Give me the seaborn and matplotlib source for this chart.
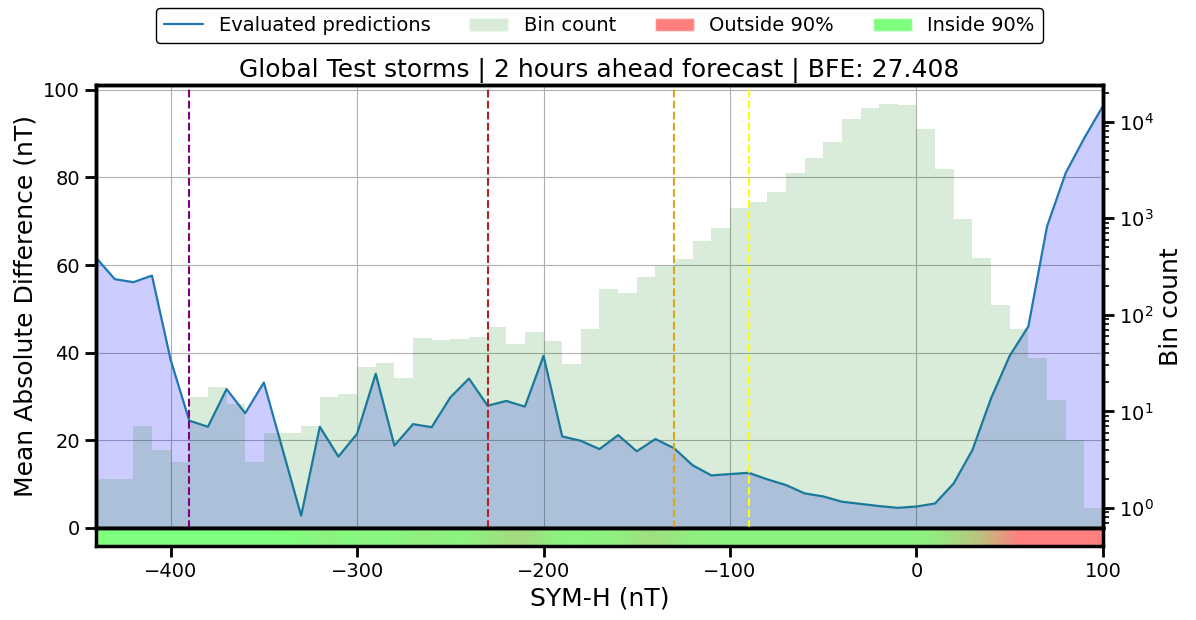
import numpy as np
import matplotlib
matplotlib.use("Agg")
import matplotlib.pyplot as plt
from matplotlib.colors import LinearSegmentedColormap
from matplotlib.patches import Patch
from matplotlib.lines import Line2D
import seaborn as sns

# SYM-H grid of the evaluated predictions
sym_h = list(range(-440, 101, 10))
mad = [61.7, 56.8, 56.1, 57.6, 38.4, 24.5, 23.1, 31.7, 26.2, 33.2,
       18.0, 2.8, 23.1, 16.3, 21.5, 35.2, 18.8, 23.7, 23.0, 29.8,
       34.1, 27.9, 29.0, 27.7, 39.3, 20.9, 19.9, 18.0, 21.2, 17.5,
       20.3, 18.2, 14.3, 12.0, 12.3, 12.6, 11.1, 9.8, 7.9, 7.2,
       6.0, 5.5, 5.0, 4.6, 4.9, 5.6, 10.2, 17.8, 29.6, 39.3,
       46.0, 68.8, 81.0, 89.0, 96.3]

# histogram of samples per 10 nT bin
bin_edges = list(range(-440, 101, 10))
bin_counts = [2, 2, 7, 4, 3, 14, 18, 12, 3, 6,
              6, 7, 14, 15, 29, 32, 22, 58, 55, 56,
              59, 75, 50, 67, 54, 31, 72, 186, 170, 248,
              317, 380, 585, 800, 1290, 1480, 1880, 2940, 4240, 6200,
              10700, 13970, 15400, 14750, 8460, 3260, 988, 390, 126, 72,
              36, 13, 5, 1]

# share of each bin outside the 90% interval
outside_frac = [0, 0, 0, 0, 0, 0, 0, 0, 0, 0,
                0.02, 0.06, 0.1, 0.04, 0.08, 0.05, 0.1, 0.14, 0.12, 0.08,
                0.15, 0.22, 0.28, 0.24, 0.12, 0.08, 0.1, 0.12, 0.16, 0.24,
                0.22, 0.15, 0.12, 0.1, 0.1, 0.1, 0.1, 0.1, 0.1, 0.1,
                0.1, 0.1, 0.1, 0.1, 0.12, 0.22, 0.35, 0.5, 0.75, 1,
                1, 1, 1, 1]

# percentile markers
vlines = [(-390, "purple"), (-230, "firebrick"), (-130, "goldenrod"), (-90, "yellow")]

sns.set_style("ticks")
plt.rcParams["font.family"] = ["DejaVu Sans"]
plt.rcParams.update({"text.color": "black", "axes.labelcolor": "black",
                     "xtick.color": "black", "ytick.color": "black"})

fig = plt.figure(figsize=(11.96, 6.2), dpi=100)
ax = fig.add_axes([0.0803, 0.1484, 0.8419, 0.7145])
cax = fig.add_axes([0.0803, 0.1194, 0.8419, 0.029], sharex=ax)

sns.lineplot(x=sym_h, y=mad, ax=ax, color="tab:blue", linewidth=1.6)
ax.fill_between(sym_h, mad, color="blue", alpha=0.2, linewidth=0)
ax.set_xlim(-440, 100)
ax.set_ylim(0, 101.1)
ax.grid(True, color="#b0b0b0", linewidth=0.8)
ax.set_ylabel("Mean Absolute Difference (nT)", fontsize=18)
ax.set_xlabel("")
ax.tick_params(axis="x", length=0, labelbottom=False)
ax.tick_params(axis="y", labelsize=14, length=8, width=2)
ax.set_title("Global Test storms | 2 hours ahead forecast | BFE: 27.408", fontsize=18)

ax2 = ax.twinx()
centers = [e + 5 for e in bin_edges[:-1]]
sns.histplot(x=centers, weights=bin_counts, bins=bin_edges, ax=ax2,
             color="green", alpha=0.15, linewidth=0)
ax2.set_yscale("log")
ax2.set_ylim(0.62, 24000)
ax2.set_ylabel("Bin count", fontsize=18)
ax2.tick_params(axis="y", which="major", labelsize=14, length=8, width=2)
ax2.tick_params(axis="y", which="minor", length=4, width=1.2)
for x, c in vlines:
    ax2.axvline(x, color=c, linestyle="--", linewidth=1.5)

cmap = LinearSegmentedColormap.from_list("inout", [(0.5, 1, 0.5), (1, 0.5, 0.5)])
cax.imshow(np.array([outside_frac]), cmap=cmap, vmin=0, vmax=1, aspect="auto",
           extent=[-440, 100, 0, 1], interpolation="bilinear")
cax.set_yticks([])
cax.set_xticks([-400, -300, -200, -100, 0, 100])
cax.tick_params(axis="x", labelsize=14, length=8, width=2)
cax.set_xlabel("SYM-H (nT)", fontsize=18)
cax.set_xlim(-440, 100)

for a in (ax, ax2, cax):
    for s in a.spines.values():
        s.set_visible(True)
        s.set_linewidth(2.5)
        s.set_color("black")

handles = [Line2D([0], [0], color="tab:blue", linewidth=1.6),
           Patch(facecolor="green", alpha=0.15),
           Patch(facecolor="red", alpha=0.5),
           Patch(facecolor="lime", alpha=0.5)]
labels = ["Evaluated predictions", "Bin count", "Outside 90%", "Inside 90%"]
ax.legend(handles, labels, loc="lower center", bbox_to_anchor=(0.5, 1.095),
          ncol=4, fontsize=14, frameon=True, edgecolor="black",
          borderaxespad=0, framealpha=1)

fig.savefig("out.png", dpi=100)
